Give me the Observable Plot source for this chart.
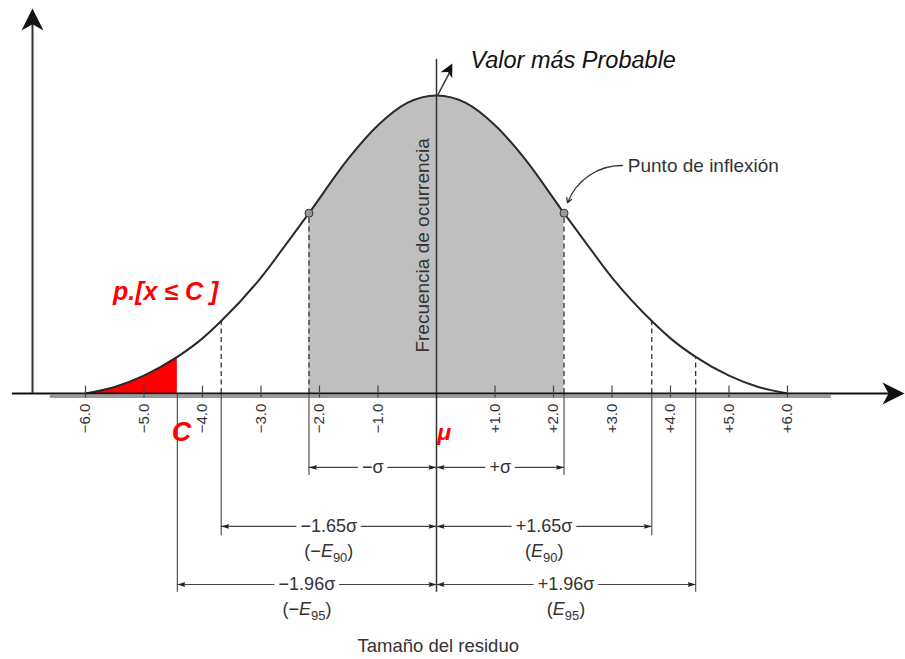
<!DOCTYPE html>
<html><head><meta charset="utf-8">
<script src="https://cdn.jsdelivr.net/npm/d3@7"></script>
<script src="https://cdn.jsdelivr.net/npm/@observablehq/plot@0.6"></script>
<style>html,body{margin:0;padding:0;background:#fff;} #chart svg{display:block;}</style>
</head><body><div id="chart"></div>
<script>
// ---- data ----
const curveX = [-6.0,-5.5,-5.0,-4.43,-4.0,-3.68,-3.0,-2.5,-2.18,-1.5,-1.0,-0.5,0,0.5,1.0,1.5,2.18,2.5,3.0,3.68,4.0,4.43,5.0,5.5,6.0];
const curveY = [0.0,0.022,0.06,0.123,0.185,0.243,0.389,0.52,0.605,0.79,0.90,0.975,1.0,0.975,0.90,0.79,0.605,0.52,0.389,0.243,0.185,0.123,0.06,0.022,0.0];
const tickValues = [-6,-5,-4,-3,-2,-1,1,2,3,4,5,6];
const tickLabels = ["−6.0","−5.0","−4.0","−3.0","−2.0","−1.0","+1.0","+2.0","+3.0","+4.0","+5.0","+6.0"];
const sigma = 2.18, e90 = 3.68, e95 = 4.43, cValue = -4.43;
const dimLabels = ["−σ","+σ","−1.65σ","+1.65σ","−1.96σ","+1.96σ"];
const dimNotes = ["","","(−E90)","(E90)","(−E95)","(E95)"];

// ---- derived tables ----
const curve = curveX.map((x, i) => ({x, y: curveY[i]}));
const hAt = x => curveY[curveX.indexOf(x)];
const greyPart = curve.filter(d => d.x >= -sigma && d.x <= sigma);
const redPart = curve.filter(d => d.x <= cValue);
const dims = [
  {lo: -sigma, hi: 0, row: 0}, {lo: 0, hi: sigma, row: 0},
  {lo: -e90, hi: 0, row: 1}, {lo: 0, hi: e90, row: 1},
  {lo: -e95, hi: 0, row: 2}, {lo: 0, hi: e95, row: 2}
].map((d, i) => ({...d, label: dimLabels[i], note: dimNotes[i]}));
const rowLevels = [-0.248, -0.446, -0.641];
const dimHeads = dims.flatMap(d => [
  {x: d.lo, y: rowLevels[d.row], rot: -90},
  {x: d.hi, y: rowLevels[d.row], rot: 90}
]);

function arrowSymbol(hw, notch) {
  return {draw(ctx, size) {
    const r = Math.sqrt(size / Math.PI);
    ctx.moveTo(0, 0);
    ctx.lineTo(hw * r, 2 * r);
    ctx.lineTo(0, notch * 2 * r);
    ctx.lineTo(-hw * r, 2 * r);
    ctx.closePath();
  }};
}
const bigHead = arrowSymbol(1.0, 0.72);
const smallHead = arrowSymbol(0.6, 0.85);

const ink = "#333";
const fam = "'Liberation Sans', Arial, Helvetica, sans-serif";

const chart = Plot.plot({
  width: 905, height: 659,
  marginTop: 95, marginBottom: 266, marginLeft: 0, marginRight: 0,
  x: {domain: [-7.453, 8.017], axis: null},
  y: {domain: [0, 1], axis: null},
  style: {fontFamily: fam, background: "#fff", overflow: "visible"},
  marks: [
    Plot.areaY(greyPart, {x: "x", y: "y", fill: "#bfbfbf", curve: "monotone-x"}),
    Plot.areaY(redPart, {x: "x", y: "y", fill: "#ff0000", curve: "monotone-x"}),
    // grey printed baseline under the axis
    Plot.ruleY([0], {x1: -6.6, x2: 6.75, stroke: "#9a9a9a", strokeWidth: 3, dy: 3}),
    // dashed verticals above the axis
    Plot.ruleX([-sigma, sigma, -e90, e90, e95], {x: d => d, y1: 0, y2: d => hAt(d), stroke: ink, strokeWidth: 1.3, strokeDasharray: "5,3.5"}),
    // solid extension lines below the axis
    Plot.ruleX([-sigma, sigma], {x: d => d, y1: 0, y2: -0.275, stroke: "#555", strokeWidth: 1.2}),
    Plot.ruleX([-e90, e90], {x: d => d, y1: 0, y2: -0.477, stroke: "#555", strokeWidth: 1.2}),
    Plot.ruleX([-e95, e95], {x: d => d, y1: 0, y2: -0.667, stroke: "#555", strokeWidth: 1.2}),
    // central line
    Plot.ruleX([0], {x: d => d, y1: -0.667, y2: 1.121, stroke: ink, strokeWidth: 1.5}),
    // the curve
    Plot.line(curve, {x: "x", y: "y", stroke: "#2a2a2a", strokeWidth: 2, curve: "monotone-x"}),
    // axes
    Plot.ruleY([0], {x1: -7.25, x2: 7.85, stroke: "#111", strokeWidth: 1.8}),
    Plot.ruleX([-6.906], {x: d => d, y1: 0, y2: 1.25, stroke: ink, strokeWidth: 2}),
    Plot.dot([{x: -6.906, y: 1.292, rot: 0}, {x: 8.0, y: 0, rot: 90}], {x: "x", y: "y", rotate: "rot", symbol: bigHead, r: 11, fill: "#111", stroke: "none"}),
    // ticks and tick labels
    Plot.ruleX(tickValues, {x: d => d, y1: -0.015, y2: 0.025, stroke: "#444", strokeWidth: 1.2}),
    Plot.text(tickValues, {x: d => d, y: -0.034, text: (d, i) => tickLabels[i], rotate: -90, textAnchor: "end", fontSize: 15, fill: ink}),
    // inflection points
    Plot.dot([-sigma, sigma], {x: d => d, y: d => hAt(d), r: 4, fill: "#999", stroke: ink, strokeWidth: 1}),
    Plot.arrow([{x1: 3.18, y1: 0.765, x2: 2.24, y2: 0.64}], {x1: "x1", y1: "y1", x2: "x2", y2: "y2", bend: -35, headLength: 6, stroke: ink, strokeWidth: 1.3}),
    Plot.text(["Punto de inflexión"], {x: 3.27, y: 0.765, text: d => d, textAnchor: "start", fontSize: 19, fill: ink}),
    // most probable value
    Plot.link([{x1: 0.017, y1: 1.0, x2: 0.26, y2: 1.09}], {x1: "x1", y1: "y1", x2: "x2", y2: "y2", stroke: ink, strokeWidth: 1.5}),
    Plot.dot([{x: 0.27, y: 1.107}], {x: "x", y: "y", rotate: 27, symbol: bigHead, r: 6.5, fill: "#111", stroke: "none"}),
    Plot.text(["Valor más Probable"], {x: 0.58, y: 1.117, text: d => d, textAnchor: "start", fontSize: 23.5, fontStyle: "italic", fill: "#111"}),
    Plot.text(["Frecuencia de ocurrencia"], {x: -0.24, y: 0.497, text: d => d, rotate: -90, fontSize: 19, fill: ink}),
    // red annotations
    Plot.text(["p.[x ≤ C ]"], {x: -4.63, y: 0.339, text: d => d, fontSize: 25, fontWeight: "bold", fontStyle: "italic", fill: "#ff0000"}),
    Plot.text(["C"], {x: -4.36, y: -0.131, text: d => d, fontSize: 27, fontWeight: "bold", fontStyle: "italic", fill: "#ff0000"}),
    Plot.text(["μ"], {x: 0.13, y: -0.131, text: d => d, fontSize: 23, fontWeight: "bold", fontStyle: "italic", fill: "#ff0000"}),
    // dimension lines
    Plot.ruleY(dims, {y: d => rowLevels[d.row], x1: "lo", x2: "hi", stroke: "#444", strokeWidth: 1.2}),
    Plot.dot(dimHeads, {x: "x", y: "y", rotate: "rot", symbol: smallHead, r: 4, fill: "#222", stroke: "none"}),
    Plot.text(dims, {x: d => (d.lo + d.hi) / 2, y: d => rowLevels[d.row], text: "label", fontSize: 18, fill: ink, stroke: "#fff", strokeWidth: 10}),
    Plot.text(dims.filter(d => d.note), {x: d => (d.lo + d.hi) / 2, y: d => rowLevels[d.row], dy: 25, text: "note", fontSize: 18, fill: ink}),
    Plot.text(["Tamaño del residuo"], {x: 0.03, y: -0.846, text: d => d, fontSize: 18.5, fill: ink})
  ]
});

// italic E with subscript for the (E90)/(E95) notes
chart.querySelectorAll("text").forEach(t => {
  const m = /^\((−?)E(\d+)\)$/.exec(t.textContent);
  if (!m) return;
  const ns = "http://www.w3.org/2000/svg";
  t.textContent = "";
  const a = document.createElementNS(ns, "tspan"); a.textContent = "(" + m[1]; t.appendChild(a);
  const e = document.createElementNS(ns, "tspan"); e.textContent = "E"; e.setAttribute("font-style", "italic"); t.appendChild(e);
  const s = document.createElementNS(ns, "tspan"); s.textContent = m[2]; s.setAttribute("font-size", "13"); s.setAttribute("dy", "5"); t.appendChild(s);
  const c = document.createElementNS(ns, "tspan"); c.textContent = ")"; c.setAttribute("dy", "-5"); t.appendChild(c);
});

document.getElementById("chart").appendChild(chart);
</script></body></html>
